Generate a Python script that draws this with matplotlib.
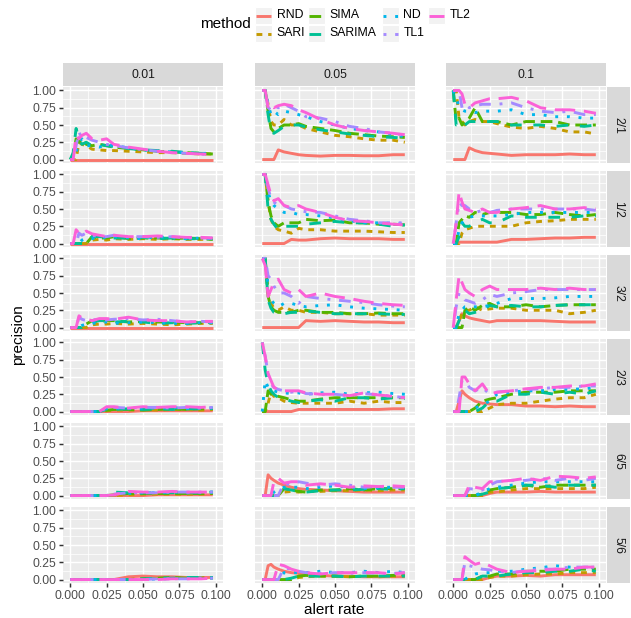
import matplotlib
matplotlib.use("Agg")
import matplotlib.pyplot as plt
from matplotlib.patches import Rectangle
from matplotlib.lines import Line2D

plt.rcParams['font.family'] = ['Liberation Sans', 'DejaVu Sans']

# ---- data (precision vs alert rate) ----
x_rate = [0.000, 0.002, 0.004, 0.006, 0.008, 0.011, 0.015, 0.020, 0.025,
          0.030, 0.040, 0.050, 0.060, 0.070, 0.080, 0.090, 0.098]

methods = ["RND", "SARI", "SIMA", "SARIMA", "ND", "TL1", "TL2"]
row_labels = ["2/1", "1/2", "3/2", "2/3", "6/5", "5/6"]
col_labels = ["0.01", "0.05", "0.1"]

colors = ["#F8766D", "#C49A00", "#53B400", "#00C094", "#00B6EB", "#A58AFF", "#FB61D7"]
linestyles = ["solid", (0, (2, 2)), (0, (4, 2)), (0, (4, 4)), (0, (1, 3)),
              (0, (1, 3, 4, 3)), (0, (7, 3))]

# column 0.01
p_21_001 = {
    "RND":    [0, 0, 0, 0, 0, 0, 0, 0, 0, 0, 0, 0, 0, 0, 0, 0, 0],
    "SARI":   [0, 0, 0, .25, .22, .2, .15, .14, .13, .13, .12, .11, .1, .1, .09, .08, .08],
    "SIMA":   [0, .05, .3, .25, .3, .22, .2, .22, .2, .18, .16, .14, .12, .11, .1, .09, .08],
    "SARIMA": [0, .1, .45, .3, .22, .25, .2, .22, .2, .19, .16, .14, .13, .12, .1, .09, .09],
    "ND":     [0, 0, .1, .25, .3, .2, .2, .18, .22, .2, .17, .14, .12, .11, .1, .09, .08],
    "TL1":    [0, 0, .2, .4, .3, .32, .28, .25, .22, .2, .17, .14, .12, .1, .09, .08, .07],
    "TL2":    [0, 0, .35, .3, .35, .38, .3, .28, .3, .22, .18, .15, .12, .1, .09, .08, .07],
}
p_12_001 = {
    "RND":    [0, 0, 0, 0, 0, 0, 0, 0, 0, 0, 0, 0, 0, 0, 0, 0, 0],
    "SARI":   [0, 0, 0, 0, 0, 0, .05, .06, .05, .07, .06, .07, .06, .07, .06, .06, .07],
    "SIMA":   [0, 0, 0, 0, 0, 0, .1, .08, .08, .1, .07, .08, .08, .07, .08, .07, .06],
    "SARIMA": [0, 0, 0, 0, 0, 0, .1, .1, .09, .08, .08, .09, .07, .08, .07, .07, .07],
    "ND":     [0, 0, 0, 0, .05, .08, .07, .1, .08, .1, .08, .07, .1, .08, .07, .08, .07],
    "TL1":    [0, 0, 0, .15, .12, .15, .12, .1, .1, .12, .1, .1, .09, .1, .08, .08, .08],
    "TL2":    [0, 0, .2, .15, .13, .18, .14, .12, .1, .12, .1, .1, .11, .1, .09, .09, .08],
}
p_32_001 = {
    "RND":    [0, 0, 0, 0, 0, 0, 0, 0, 0, 0, 0, 0, 0, 0, 0, 0, 0],
    "SARI":   [0, 0, 0, 0, 0, 0, .04, .05, .05, .06, .05, .06, .05, .04, .05, .06, .06],
    "SIMA":   [0, 0, 0, 0, 0, .05, .1, .09, .1, .1, .08, .09, .08, .08, .07, .07, .08],
    "SARIMA": [0, 0, 0, 0, 0, .04, .08, .1, .1, .08, .09, .08, .06, .07, .06, .07, .07],
    "ND":     [0, 0, 0, 0, .03, .05, .06, .07, .08, .06, .07, .08, .07, .06, .06, .07, .07],
    "TL1":    [0, 0, 0, .15, .12, .1, .11, .12, .11, .12, .13, .11, .12, .1, .08, .09, .08],
    "TL2":    [0, 0, 0, .17, .14, .12, .1, .13, .13, .12, .15, .11, .1, .1, .08, .09, .09],
}
p_23_001 = {
    "RND":    [0, 0, 0, 0, 0, 0, 0, 0, 0, 0, 0, .01, .01, .01, .01, .01, .01],
    "SARI":   [0, 0, 0, 0, 0, 0, 0, 0, .01, .02, .02, .03, .02, .03, .03, .02, .03],
    "SIMA":   [0, 0, 0, 0, 0, 0, 0, 0, .02, .03, .03, .02, .03, .04, .03, .04, .04],
    "SARIMA": [0, 0, 0, 0, 0, 0, 0, 0, .03, .03, .04, .03, .04, .03, .04, .04, .05],
    "ND":     [0, 0, 0, 0, 0, 0, 0, 0, .04, .05, .04, .05, .05, .06, .04, .05, .05],
    "TL1":    [0, 0, 0, 0, 0, 0, 0, 0, .05, .06, .05, .06, .06, .05, .06, .05, .06],
    "TL2":    [0, 0, 0, 0, 0, 0, 0, 0, .07, .07, .05, .07, .06, .07, .07, .06, .07],
}
p_65_001 = {
    "RND":    [0, 0, 0, 0, 0, 0, 0, 0, 0, 0, 0, 0, .01, .01, .01, .01, .01],
    "SARI":   [0, 0, 0, 0, 0, 0, 0, 0, 0, 0, .01, .02, .02, .02, .02, .02, .03],
    "SIMA":   [0, 0, 0, 0, 0, 0, 0, 0, 0, .01, .03, .03, .03, .03, .03, .03, .03],
    "SARIMA": [0, 0, 0, 0, 0, 0, 0, 0, 0, .05, .04, .04, .04, .04, .04, .04, .05],
    "ND":     [0, 0, 0, 0, 0, 0, 0, 0, 0, .03, .03, .04, .04, .05, .04, .04, .05],
    "TL1":    [0, 0, 0, 0, 0, 0, 0, 0, 0, .02, .04, .04, .04, .05, .05, .05, .05],
    "TL2":    [0, 0, 0, 0, 0, 0, 0, 0, 0, .01, .06, .05, .05, .06, .05, .05, .05],
}
p_56_001 = {
    "RND":    [0, 0, 0, 0, 0, 0, 0, 0, 0, 0, .04, .05, .04, .04, .03, .03, .03],
    "SARI":   [0, 0, 0, 0, 0, 0, 0, 0, 0, 0, 0, .01, .02, .02, .02, .02, .02],
    "SIMA":   [0, 0, 0, 0, 0, 0, 0, 0, 0, 0, 0, .01, .02, .03, .02, .02, .03],
    "SARIMA": [0, 0, 0, 0, 0, 0, 0, 0, 0, 0, 0, .01, .02, .02, .03, .03, .03],
    "ND":     [0, 0, 0, 0, 0, 0, 0, 0, 0, 0, 0, 0, .01, .01, .02, .02, .02],
    "TL1":    [0, 0, 0, 0, 0, 0, 0, 0, 0, 0, 0, 0, .01, .01, .01, .02, .02],
    "TL2":    [0, 0, 0, 0, 0, 0, 0, 0, 0, 0, 0, 0, 0, .01, .01, .01, .02],
}

# column 0.05
p_21_005 = {
    "RND":    [0, 0, 0, 0, 0, .14, .11, .09, .07, .06, .05, .06, .06, .055, .055, .07, .07],
    "SARI":   [1, 1, .8, .55, .5, .5, .58, .5, .5, .45, .4, .35, .33, .3, .28, .28, .25],
    "SIMA":   [1, 1, .7, .45, .4, .45, .5, .5, .52, .48, .45, .42, .38, .36, .34, .33, .32],
    "SARIMA": [1, 1, .65, .4, .38, .42, .48, .5, .5, .47, .43, .4, .37, .35, .33, .32, .31],
    "ND":     [1, 1, .8, .65, .7, .65, .7, .68, .65, .62, .55, .5, .45, .42, .4, .36, .33],
    "TL1":    [1, 1, .75, .72, .78, .75, .8, .75, .7, .62, .6, .55, .48, .45, .4, .38, .35],
    "TL2":    [1, 1, .75, .8, .75, .78, .8, .78, .72, .68, .58, .5, .45, .42, .4, .38, .36],
}
p_12_005 = {
    "RND":    [0, 0, 0, 0, 0, 0, 0, .06, .05, .05, .07, .08, .07, .07, .07, .06, .06],
    "SARI":   [1, 1, .6, .35, .25, .2, .18, .15, .22, .2, .2, .18, .18, .18, .17, .16, .16],
    "SIMA":   [1, 1, .6, .4, .3, .25, .3, .3, .3, .35, .33, .34, .3, .3, .28, .28, .27],
    "SARIMA": [1, 1, .5, .35, .28, .2, .25, .25, .25, .28, .3, .32, .3, .3, .28, .25, .27],
    "ND":     [1, 1, .75, .6, .55, .5, .45, .45, .42, .42, .4, .37, .33, .3, .3, .29, .28],
    "TL1":    [1, 1, .8, .65, .6, .55, .55, .5, .48, .46, .45, .4, .35, .33, .3, .3, .3],
    "TL2":    [1, 1, .85, .7, .62, .65, .55, .52, .55, .5, .45, .38, .33, .32, .3, .28, .27],
}
p_32_005 = {
    "RND":    [0, 0, 0, 0, 0, 0, 0, 0, 0, .1, .09, .1, .09, .08, .08, .07, .07],
    "SARI":   [1, 1, .5, .35, .28, .25, .3, .25, .25, .22, .22, .2, .2, .2, .18, .18, .18],
    "SIMA":   [1, 1, .45, .3, .25, .22, .22, .22, .25, .25, .22, .22, .2, .2, .21, .2, .2],
    "SARIMA": [1, 1, .4, .28, .22, .2, .2, .22, .22, .24, .22, .2, .2, .2, .2, .19, .19],
    "ND":     [1, 1, .6, .4, .35, .3, .35, .35, .32, .3, .32, .33, .3, .28, .27, .26, .25],
    "TL1":    [1, 1, .75, .7, .6, .5, .5, .45, .35, .45, .42, .4, .38, .36, .33, .31, .3],
    "TL2":    [1, .9, .45, .55, .65, .7, .55, .5, .55, .45, .5, .45, .42, .38, .35, .33, .32],
}
p_23_005 = {
    "RND":    [0, 0, 0, 0, 0, 0, 0, 0, .03, .03, .03, .03, .03, .03, .03, .04, .04],
    "SARI":   [0, 0, .12, .28, .22, .2, .15, .13, .12, .12, .12, .12, .15, .12, .15, .13, .13],
    "SIMA":   [0, 0, .3, .25, .25, .22, .2, .17, .15, .15, .18, .2, .2, .2, .2, .2, .2],
    "SARIMA": [1, .6, .4, .3, .25, .2, .18, .15, .13, .15, .17, .15, .2, .2, .18, .2, .19],
    "ND":     [0, .45, .35, .3, .3, .28, .27, .26, .27, .25, .27, .28, .25, .27, .28, .26, .25],
    "TL1":    [1, .8, .55, .4, .35, .32, .3, .28, .3, .26, .25, .25, .23, .26, .24, .22, .2],
    "TL2":    [1, .8, .55, .45, .35, .32, .3, .3, .3, .27, .25, .25, .23, .27, .24, .22, .2],
}
p_65_005 = {
    "RND":    [0, 0, .3, .25, .22, .18, .15, .12, .1, .09, .08, .07, .06, .05, .05, .05, .05],
    "SARI":   [0, 0, 0, 0, 0, 0, .05, .06, .05, .06, .06, .07, .07, .08, .07, .08, .08],
    "SIMA":   [0, 0, 0, 0, 0, 0, .1, .08, .06, .05, .08, .08, .1, .08, .1, .1, .1],
    "SARIMA": [0, 0, 0, 0, 0, .05, .1, .08, .06, .05, .07, .08, .08, .09, .1, .09, .1],
    "ND":     [0, 0, 0, 0, .05, .1, .12, .12, .12, .1, .12, .14, .12, .1, .12, .12, .12],
    "TL1":    [0, 0, 0, 0, 0, 0, .18, .15, .2, .18, .15, .17, .15, .12, .13, .12, .12],
    "TL2":    [0, 0, 0, 0, .2, .25, .18, .2, .2, .15, .17, .15, .12, .14, .13, .14, .13],
}
p_56_005 = {
    "RND":    [0, 0, .2, .22, .18, .15, .12, .1, .09, .08, .06, .05, .05, .04, .04, .04, .04],
    "SARI":   [0, 0, 0, 0, 0, 0, 0, 0, .03, .04, .05, .05, .04, .05, .04, .05, .05],
    "SIMA":   [0, 0, 0, 0, 0, 0, 0, 0, .05, .06, .05, .05, .04, .05, .05, .06, .07],
    "SARIMA": [0, 0, 0, 0, 0, 0, 0, .02, .05, .05, .05, .05, .04, .05, .05, .05, .05],
    "ND":     [0, 0, 0, 0, 0, 0, .1, .1, .1, .1, .12, .1, .1, .12, .1, .12, .1],
    "TL1":    [0, 0, 0, 0, 0, 0, .17, .15, .12, .1, .09, .1, .09, .1, .09, .09, .1],
    "TL2":    [0, 0, 0, 0, 0, .22, .2, .15, .12, .1, .08, .1, .1, .1, .1, .08, .1],
}

# column 0.1
p_21_01 = {
    "RND":    [0, 0, 0, 0, 0, .17, .13, .1, .09, .08, .06, .07, .07, .07, .08, .07, .07],
    "SARI":   [1, 1, .6, .55, .5, .55, .58, .55, .55, .52, .47, .45, .48, .45, .4, .4, .37],
    "SIMA":   [1, .55, .6, .5, .55, .6, .75, .55, .55, .55, .5, .55, .55, .55, .5, .5, .5],
    "SARIMA": [1, .5, .5, .55, .5, .55, .55, .55, .55, .55, .5, .5, .5, .48, .5, .48, .5],
    "ND":     [1, .9, .75, .72, .7, .7, .68, .7, .7, .7, .72, .65, .65, .62, .62, .6, .6],
    "TL1":    [1, 1, 1, .75, .8, .75, .78, .8, .8, .8, .82, .75, .7, .68, .7, .65, .65],
    "TL2":    [1, 1, 1, .95, .8, .75, .82, .85, .88, .88, .9, .85, .75, .72, .72, .7, .67],
}
p_12_01 = {
    "RND":    [0, 0, .02, .02, .02, .02, .02, .02, .02, .02, .06, .06, .07, .08, .08, .09, .09],
    "SARI":   [0, 0, 0, .15, .2, .22, .25, .25, .25, .25, .25, .3, .32, .33, .35, .35, .35],
    "SIMA":   [0, 0, .3, .35, .4, .38, .45, .42, .45, .45, .45, .42, .42, .45, .42, .4, .42],
    "SARIMA": [0, 0, .1, .3, .25, .25, .3, .35, .3, .3, .4, .38, .38, .38, .38, .4, .4],
    "ND":     [0, 0, .2, .3, .35, .38, .4, .4, .4, .4, .42, .45, .45, .45, .45, .45, .45],
    "TL1":    [0, .3, .6, .55, .55, .5, .45, .48, .45, .48, .5, .5, .5, .5, .5, .5, .48],
    "TL2":    [0, .3, .75, .6, .5, .48, .45, .5, .45, .45, .5, .52, .55, .5, .5, .52, .5],
}
p_32_01 = {
    "RND":    [0, 0, .1, .2, .17, .14, .12, .1, .08, .1, .1, .1, .1, .09, .08, .08, .08],
    "SARI":   [0, 0, .1, .2, .25, .25, .3, .25, .27, .28, .28, .25, .25, .25, .2, .22, .25],
    "SIMA":   [0, 0, 0, 0, .25, .3, .25, .32, .35, .3, .3, .33, .3, .32, .33, .33, .33],
    "SARIMA": [0, 0, .1, .2, .25, .2, .22, .25, .32, .3, .32, .3, .3, .32, .33, .33, .33],
    "ND":     [0, 0, .2, .25, .3, .3, .3, .3, .32, .35, .42, .42, .42, .43, .45, .45, .45],
    "TL1":    [0, .3, .5, .45, .4, .38, .35, .4, .48, .45, .5, .52, .55, .55, .55, .55, .55],
    "TL2":    [0, .4, .75, .65, .55, .5, .45, .55, .6, .55, .55, .55, .57, .55, .57, .55, .55],
}
p_23_01 = {
    "RND":    [0, 0, .15, .3, .25, .2, .15, .12, .11, .1, .1, .08, .08, .07, .08, .07, .07],
    "SARI":   [0, 0, 0, 0, 0, 0, 0, 0, .05, .1, .12, .12, .15, .18, .2, .2, .25],
    "SIMA":   [0, 0, 0, 0, 0, 0, .05, .15, .18, .2, .25, .28, .28, .28, .3, .3, .3],
    "SARIMA": [0, 0, 0, 0, 0, 0, 0, .05, .15, .15, .25, .25, .28, .25, .28, .25, .3],
    "ND":     [0, 0, 0, 0, 0, 0, .05, .1, .15, .25, .28, .3, .3, .32, .32, .33, .35],
    "TL1":    [0, 0, .2, .45, .45, .35, .3, .35, .25, .28, .3, .32, .33, .35, .35, .37, .37],
    "TL2":    [0, 0, 0, .5, .5, .4, .3, .4, .25, .28, .3, .33, .35, .35, .37, .37, .4],
}
p_65_01 = {
    "RND":    [0, 0, 0, 0, 0, 0, 0, 0, .03, .05, .05, .05, .06, .05, .05, .05, .05],
    "SARI":   [0, 0, 0, 0, 0, 0, 0, 0, .05, .05, .08, .1, .1, .1, .1, .1, .12],
    "SIMA":   [0, 0, 0, 0, 0, 0, 0, .02, .08, .1, .12, .15, .12, .15, .15, .15, .15],
    "SARIMA": [0, 0, 0, 0, 0, 0, 0, .02, .05, .1, .12, .15, .15, .12, .15, .15, .15],
    "ND":     [0, 0, 0, 0, 0, 0, 0, .05, .1, .12, .15, .18, .2, .2, .2, .2, .2],
    "TL1":    [0, 0, 0, 0, 0, .1, .09, .08, .15, .2, .22, .22, .25, .22, .25, .22, .25],
    "TL2":    [0, 0, 0, 0, 0, .15, .12, .1, .2, .2, .22, .25, .22, .28, .27, .25, .27],
}
p_56_01 = {
    "RND":    [0, 0, 0, 0, 0, 0, 0, 0, .03, .05, .05, .06, .05, .07, .07, .07, .07],
    "SARI":   [0, 0, 0, 0, 0, 0, 0, 0, .03, .05, .05, .07, .08, .08, .1, .1, .1],
    "SIMA":   [0, 0, 0, 0, 0, 0, 0, .05, .05, .08, .08, .12, .12, .12, .15, .15, .15],
    "SARIMA": [0, 0, 0, 0, 0, 0, 0, .05, .05, .05, .08, .1, .1, .12, .12, .15, .12],
    "ND":     [0, 0, 0, 0, 0, .05, .08, .1, .1, .12, .12, .15, .17, .2, .18, .17, .18],
    "TL1":    [0, 0, 0, 0, .25, .2, .18, .15, .14, .12, .1, .13, .15, .15, .18, .18, .18],
    "TL2":    [0, 0, 0, 0, .33, .28, .22, .25, .2, .15, .1, .12, .13, .15, .15, .18, .18],
}

panels = {
    ("2/1", "0.01"): p_21_001, ("2/1", "0.05"): p_21_005, ("2/1", "0.1"): p_21_01,
    ("1/2", "0.01"): p_12_001, ("1/2", "0.05"): p_12_005, ("1/2", "0.1"): p_12_01,
    ("3/2", "0.01"): p_32_001, ("3/2", "0.05"): p_32_005, ("3/2", "0.1"): p_32_01,
    ("2/3", "0.01"): p_23_001, ("2/3", "0.05"): p_23_005, ("2/3", "0.1"): p_23_01,
    ("6/5", "0.01"): p_65_001, ("6/5", "0.05"): p_65_005, ("6/5", "0.1"): p_65_01,
    ("5/6", "0.01"): p_56_001, ("5/6", "0.05"): p_56_005, ("5/6", "0.1"): p_56_01,
}

x_ticks = [0.0, 0.025, 0.05, 0.075, 0.1]
x_ticklabels = ["0.000", "0.025", "0.050", "0.075", "0.100"]
y_ticks = [0.0, 0.25, 0.5, 0.75, 1.0]
y_ticklabels = ["0.00", "0.25", "0.50", "0.75", "1.00"]

# ---- layout (pixels) ----
W, H = 631, 618
col_left = [63, 255, 446]
row_top = [87, 171, 255, 339, 423, 507]
PW, PH = 160, 76


def box(x, y, w, h):
    return [x / W, 1 - (y + h) / H, w / W, h / H]


fig = plt.figure(figsize=(W / 100, H / 100), dpi=100)
fig.patch.set_facecolor("white")

for r, rname in enumerate(row_labels):
    for c, cname in enumerate(col_labels):
        ax = fig.add_axes(box(col_left[c], row_top[r], PW, PH))
        ax.set_facecolor("#EBEBEB")
        data = panels[(rname, cname)]
        for m, col, ls in zip(methods, colors, linestyles):
            ax.plot(x_rate, data[m], color=col, linestyle=ls, linewidth=2.1,
                    solid_capstyle="butt", dash_capstyle="butt")
        ax.set_xlim(-0.005, 0.105)
        ax.set_ylim(-0.05, 1.05)
        ax.set_xticks(x_ticks)
        ax.set_yticks(y_ticks)
        ax.set_xticks([0.0125, 0.0375, 0.0625, 0.0875], minor=True)
        ax.set_yticks([0.125, 0.375, 0.625, 0.875], minor=True)
        ax.set_axisbelow(True)
        ax.grid(which="major", color="white", linewidth=1.07)
        ax.grid(which="minor", color="white", linewidth=0.53)
        for s in ax.spines.values():
            s.set_visible(False)
        ax.tick_params(which="minor", length=0)
        ax.tick_params(which="major", length=2.75, width=1.07, color="#333333",
                       labelsize=8.8, labelcolor="#4D4D4D", pad=2.2)
        if c == 0:
            ax.set_yticklabels(y_ticklabels)
        else:
            ax.tick_params(axis="y", length=0, labelleft=False)
        if r == len(row_labels) - 1:
            ax.set_xticklabels(x_ticklabels)
        else:
            ax.tick_params(axis="x", length=0, labelbottom=False)

        if r == 0:
            st = fig.add_axes(box(col_left[c], 63, PW, 23))
            st.set_facecolor("#D9D9D9")
            st.set_xticks([]); st.set_yticks([])
            for s in st.spines.values():
                s.set_visible(False)
            st.text(0.5, 0.5, cname, ha="center", va="center", fontsize=8.8,
                    color="#1A1A1A", transform=st.transAxes)
        if c == len(col_labels) - 1:
            st = fig.add_axes(box(607, row_top[r], 23, PH))
            st.set_facecolor("#D9D9D9")
            st.set_xticks([]); st.set_yticks([])
            for s in st.spines.values():
                s.set_visible(False)
            st.text(0.5, 0.5, rname, ha="center", va="center", fontsize=8.8,
                    color="#1A1A1A", rotation=-90, transform=st.transAxes)

# axis titles
fig.text(334.5 / W, 1 - 610 / H, "alert rate", ha="center", va="center", fontsize=11)
fig.text(18 / W, 1 - 335 / H, "precision", ha="center", va="center", fontsize=11,
         rotation=90)

# legend (ggplot style, title on the left, 2 rows)
lg = fig.add_axes([0, 0, 1, 1], zorder=5)
lg.set_xlim(0, W)
lg.set_ylim(H, 0)
lg.axis("off")
lg.text(251, 24.5, "method", ha="right", va="center", fontsize=11)
key_x = [255, 308, 382, 428]
key_y = [7, 25]
for i, (m, col, ls) in enumerate(zip(methods, colors, linestyles)):
    kx = key_x[i // 2]
    ky = key_y[i % 2]
    lg.add_patch(Rectangle((kx, ky), 17, 17, facecolor="#F2F2F2", edgecolor="white",
                           linewidth=0.8))
    lg.add_line(Line2D([kx + 1, kx + 16], [ky + 8.5, ky + 8.5], color=col, linestyle=ls,
                       linewidth=2.1, solid_capstyle="butt", dash_capstyle="butt"))
    lg.text(kx + 21.5, ky + 8.5, m, ha="left", va="center", fontsize=8.8, color="black")

fig.savefig("out.png", dpi=100)
